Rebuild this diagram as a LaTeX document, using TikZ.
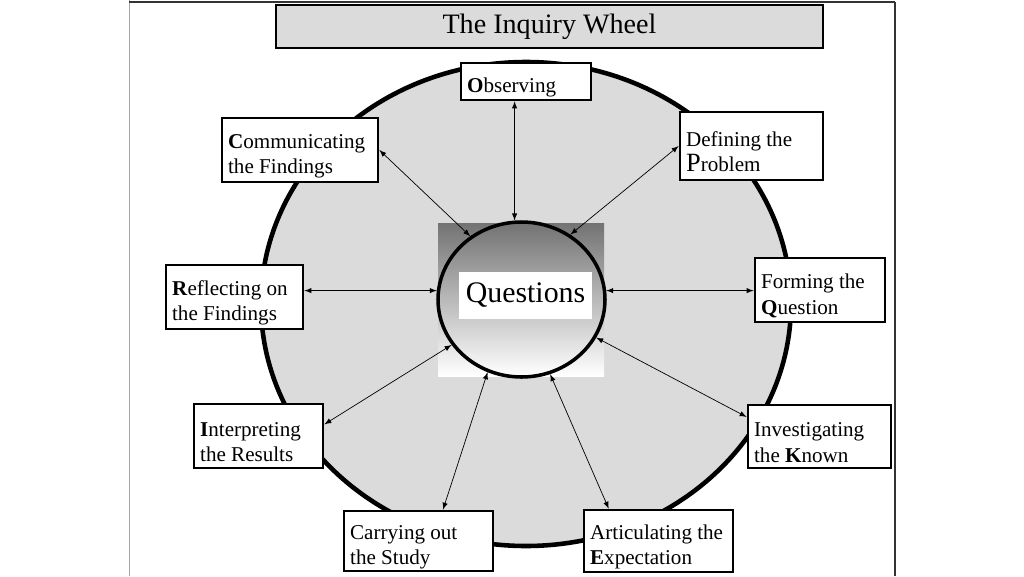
\documentclass[tikz,border=0pt]{standalone}
\usepackage{fontspec}
\setmainfont{Liberation Serif}
\usetikzlibrary{arrows,shapes.geometric}
\tikzstyle{stage}=[rectangle, draw, fill=white, line width=1.5pt, align=flush left, inner xsep=3.5pt, inner ysep=0pt, font=\fontsize{12}{14.5}\selectfont, execute at begin node={\rule{0pt}{15pt}}]
\tikzstyle{link}=[<->, >=latex, line width=0.4pt]
\newcommand{\stagebox}{\node[stage]}
\newcommand{\bigP}{{\fontsize{15}{15}\selectfont P}}

\begin{document}
\begin{tikzpicture}[x=0.2mm, y=-0.2mm]
	\useasboundingbox (0,0) rectangle (1024,576);
	\fill[white] (0,0) rectangle (1024,576);
	% frame
	\draw[black!35, line width=0.5pt] (129,0) -- (129,576);
	\draw[black!80, line width=1pt] (129,2) -- (895,2);
	\draw[black!80, line width=1pt] (895,2) -- (895,576);

	% the wheel
	\draw[line width=2.6pt, fill=black!14] (526,304) ellipse [x radius=265, y radius=242];
	\shade[top color=black!55, middle color=black!22, bottom color=white] (438,223) rectangle (604,376);

	\node[ellipse, draw, line width=2pt, minimum width=33.4mm, minimum height=31mm, inner sep=0pt] (q) at (521.5,299.5) {};
	\node[fill=white, minimum width=26.6mm, minimum height=9.4mm, font=\fontsize{17}{18}\selectfont] (qtext) at (525.5,295.5) {Questions};

	\node[draw, fill=black!14, line width=1.3pt, minimum width=109.4mm, minimum height=8.6mm, font=\fontsize{16}{18}\selectfont] (title) at (549.5,26.5) {The Inquiry Wheel};

	\stagebox (obs) at (526,81.5) [text width=67pt, minimum height=7.4mm] {\textbf{O}bserving};
	\stagebox (def) at (751.5,146) [text width=74.4pt, minimum height=13.6mm] {Defining the\\ \bigP roblem};
	\stagebox (form) at (820,290) [text width=67pt, minimum height=12.8mm] {Forming the\\ \textbf{Q}uestion};
	\stagebox (inv) at (819.5,436.5) [text width=74.4pt, minimum height=12.6mm] {Investigating\\ the \textbf{K}nown};
	\stagebox (art) at (658.5,541) [text width=77.8pt, minimum height=12.4mm] {Articulating the\\ \textbf{E}xpectation};
	\stagebox (car) at (418.5,541) [text width=77.8pt, minimum height=12mm] {Carrying out\\ the Study};
	\stagebox (intp) at (258.5,436) [text width=66.4pt, minimum height=12.8mm] {\textbf{I}nterpreting\\ the Results};
	\stagebox (refl) at (234.5,297) [text width=71pt, minimum height=12.8mm] {\textbf{R}eflecting on\\ the Findings};
	\stagebox (comm) at (300,150) [text width=81.8pt, minimum height=12.8mm] {\textbf{C}ommunicating\\ the Findings};

	\path[link]
		(q.95) edge (q.95 |- obs.south)
		(q.53) edge (def.west)
		(q.129) edge (comm.east)
		(q.174) edge (q.174 -| refl.east)
		(q.6) edge (q.6 -| form.west)
		(q.-27) edge (inv.165)
		(q.-69) edge (art.147)
		(q.-115) edge (car.52)
		(q.-147) edge (intp.10)
	;
\end{tikzpicture}
\end{document}
